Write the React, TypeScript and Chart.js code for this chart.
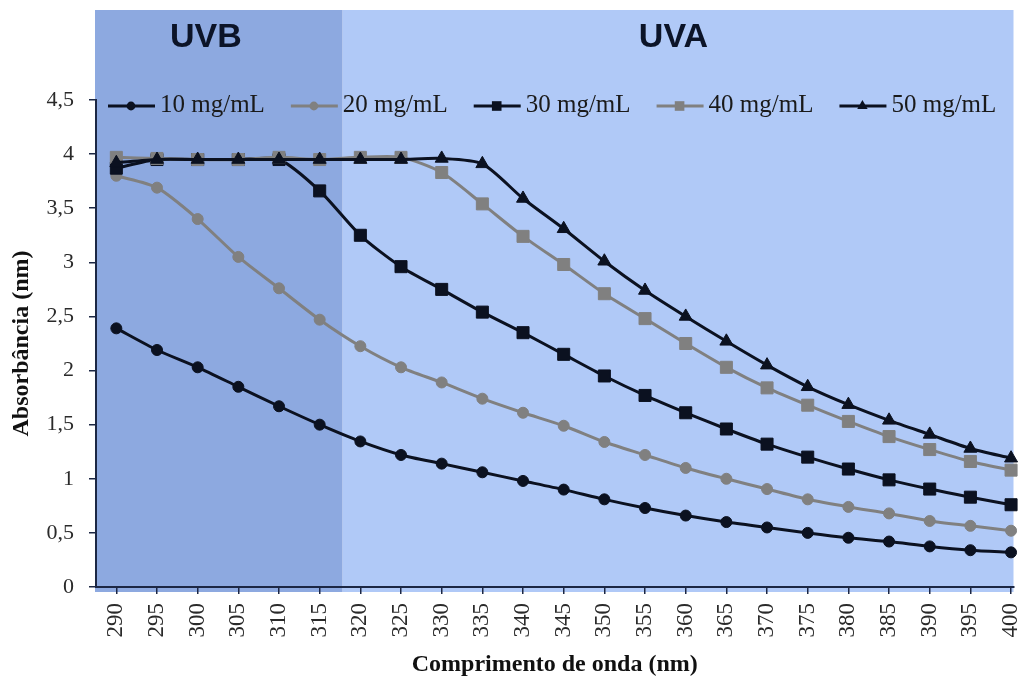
import React, { useEffect, useRef } from 'react';
import { Chart, registerables } from 'chart.js';

Chart.register(...registerables);

// Wavelengths (nm) on the x axis
const wavelengths = [290, 295, 300, 305, 310, 315, 320, 325, 330, 335, 340, 345, 350, 355, 360, 365, 370, 375, 380, 385, 390, 395, 400];

// Absorbance for each concentration
const abs10 = [2.39, 2.19, 2.03, 1.85, 1.67, 1.5, 1.345, 1.22, 1.14, 1.06, 0.98, 0.9, 0.81, 0.73, 0.66, 0.6, 0.55, 0.5, 0.455, 0.42, 0.375, 0.34, 0.32];
const abs20 = [3.8, 3.69, 3.4, 3.05, 2.76, 2.47, 2.225, 2.03, 1.89, 1.74, 1.61, 1.49, 1.34, 1.22, 1.1, 1.0, 0.905, 0.81, 0.74, 0.68, 0.61, 0.565, 0.52];
const abs30 = [3.87, 3.95, 3.95, 3.95, 3.95, 3.66, 3.25, 2.96, 2.75, 2.54, 2.35, 2.15, 1.95, 1.77, 1.61, 1.46, 1.32, 1.2, 1.09, 0.99, 0.905, 0.83, 0.76];
const abs40 = [3.97, 3.96, 3.95, 3.95, 3.97, 3.95, 3.97, 3.97, 3.83, 3.54, 3.24, 2.98, 2.71, 2.48, 2.25, 2.03, 1.84, 1.68, 1.53, 1.39, 1.27, 1.16, 1.08];
const abs50 = [3.92, 3.95, 3.95, 3.95, 3.95, 3.95, 3.95, 3.95, 3.96, 3.91, 3.59, 3.31, 3.01, 2.74, 2.5, 2.27, 2.05, 1.85, 1.685, 1.54, 1.41, 1.28, 1.19];

const seriesLabels = ['10 mg/mL', '20 mg/mL', '30 mg/mL', '40 mg/mL', '50 mg/mL'];
const seriesValues = [abs10, abs20, abs30, abs40, abs50];

// Y axis range and step
const yMin = 0;
const yMax = 4.5;
const yStep = 0.5;

// UV regions (nm): UVB ends where UVA begins
const uvbEnd = 317.8;
const bandNames = ['UVB', 'UVA'];
const bandLabelAt = [301, 358.5];

const DARK = '#0b1120';
const GRAY = '#808080';
const AXIS = '#1c2744';
const SERIF = "'Liberation Serif', 'Times New Roman', serif";

const styles = [
  { color: DARK, shape: 'circle', radius: 5.5 },
  { color: GRAY, shape: 'circle', radius: 5.5 },
  { color: DARK, shape: 'rect', radius: 8.5 },
  { color: GRAY, shape: 'rect', radius: 8.5 },
  { color: DARK, shape: 'triangle', radius: 7.5 },
];

function drawMarker(ctx: CanvasRenderingContext2D, shape: string, x: number, y: number, r: number, color: string) {
  ctx.save();
  ctx.fillStyle = color;
  ctx.beginPath();
  if (shape === 'circle') {
    ctx.arc(x, y, r, 0, Math.PI * 2);
  } else if (shape === 'rect') {
    const s = Math.SQRT1_2 * r;
    ctx.rect(x - s, y - s, 2 * s, 2 * s);
  } else {
    let a = 0;
    ctx.moveTo(x + Math.sin(a) * r, y - Math.cos(a) * r);
    a += (2 * Math.PI) / 3;
    ctx.lineTo(x + Math.sin(a) * r, y - Math.cos(a) * r);
    a += (2 * Math.PI) / 3;
    ctx.lineTo(x + Math.sin(a) * r, y - Math.cos(a) * r);
    ctx.closePath();
  }
  ctx.fill();
  ctx.restore();
}

// Shaded UVB / UVA panels behind the plot, with their titles
const uvPanels = {
  id: 'uvPanels',
  beforeDraw(chart: any) {
    const { ctx, chartArea, scales } = chart;
    const x = scales.x;
    const top = 10;
    const bottom = chartArea.bottom + 5;
    const split = x.getPixelForValue(uvbEnd);
    const left = chartArea.left - 1;
    const right = chartArea.right;
    ctx.save();
    ctx.fillStyle = '#b0c9f7';
    ctx.fillRect(split, top, right - split, bottom - top);
    ctx.fillStyle = '#8da9e0';
    ctx.fillRect(left, top, split - left, bottom - top);
    ctx.font = "bold 34px 'Liberation Sans', Arial, sans-serif";
    ctx.fillStyle = '#0c1428';
    ctx.textAlign = 'center';
    ctx.textBaseline = 'middle';
    bandNames.forEach((name, i) => {
      ctx.fillText(name, x.getPixelForValue(bandLabelAt[i]), top + 28);
    });
    ctx.restore();
  },
};

// Legend drawn inside the plot, along the top
const insideLegend = {
  id: 'insideLegend',
  afterDatasetsDraw(chart: any) {
    const { ctx, chartArea } = chart;
    const y = chartArea.top + 5;
    let x0 = chartArea.left + 12;
    ctx.save();
    ctx.font = `25px ${SERIF}`;
    ctx.textBaseline = 'middle';
    ctx.textAlign = 'left';
    chart.data.datasets.forEach((ds: any, i: number) => {
      const st = styles[i];
      ctx.strokeStyle = st.color;
      ctx.lineWidth = 3;
      ctx.beginPath();
      ctx.moveTo(x0, y + 1);
      ctx.lineTo(x0 + 47, y + 1);
      ctx.stroke();
      drawMarker(ctx, st.shape, x0 + 23, y + 1, st.radius * 0.8, st.color);
      ctx.fillStyle = '#1a1a1a';
      ctx.fillText(ds.label, x0 + 52, y);
      x0 += 52 + ctx.measureText(ds.label).width + 26;
    });
    ctx.restore();
  },
};

export default function App() {
  const canvasRef = useRef<HTMLCanvasElement>(null);

  useEffect(() => {
    document.body.style.margin = '0';
    const canvas = canvasRef.current;
    if (!canvas) return;

    const datasets = seriesValues.map((vals, i) => ({
      label: seriesLabels[i],
      data: wavelengths.map((w, k) => ({ x: w, y: vals[k] })),
      borderColor: styles[i].color,
      backgroundColor: styles[i].color,
      pointBackgroundColor: styles[i].color,
      pointBorderColor: styles[i].color,
      pointBorderWidth: 1,
      pointStyle: styles[i].shape,
      pointRadius: styles[i].radius,
      borderWidth: 3,
      tension: 0.25,
      order: seriesValues.length - i,
      clip: false as const,
    }));

    const tickFont = { family: SERIF, size: 22 };
    const titleFont = { family: SERIF, size: 24, weight: 'bold' as const, lineHeight: 1 };

    const chart = new Chart(canvas, {
      type: 'line',
      data: { datasets },
      options: {
        animation: false,
        responsive: false,
        layout: { padding: { top: 100, right: 8, left: 0, bottom: 0 } },
        plugins: {
          legend: { display: false },
          tooltip: { enabled: false },
        },
        scales: {
          x: {
            type: 'linear',
            min: wavelengths[0] - 2.5,
            max: wavelengths[wavelengths.length - 1] + 0.3,
            afterBuildTicks: (scale: any) => {
              scale.ticks = wavelengths.map((v) => ({ value: v }));
            },
            afterFit: (scale: any) => {
              scale.height = 90;
              scale.paddingLeft = 0;
              scale.paddingRight = 0;
            },
            ticks: {
              autoSkip: false,
              minRotation: 90,
              maxRotation: 90,
              padding: 9,
              font: { family: SERIF, size: 23 },
              color: '#2a2a2a',
              callback: (v: any) => String(v),
            },
            grid: { drawOnChartArea: false, tickLength: 7, color: AXIS, lineWidth: 1.5 },
            border: { color: AXIS, width: 2 },
            title: {
              display: true,
              text: 'Comprimento de onda (nm)',
              font: titleFont,
              color: '#111',
              padding: { top: 0, bottom: 0 },
            },
          },
          y: {
            type: 'linear',
            min: yMin,
            max: yMax,
            afterFit: (scale: any) => {
              scale.width = 96;
            },
            ticks: {
              stepSize: yStep,
              padding: 15,
              font: tickFont,
              color: '#2a2a2a',
              callback: (v: any) => String(v).replace('.', ','),
            },
            grid: { drawOnChartArea: false, tickLength: 7, color: AXIS, lineWidth: 1.5 },
            border: { color: AXIS, width: 2 },
            title: {
              display: true,
              text: 'Absorbância (nm)',
              font: titleFont,
              color: '#111',
              padding: { top: 10, bottom: 0 },
            },
          },
        },
      },
      plugins: [uvPanels, insideLegend],
    });

    return () => chart.destroy();
  }, []);

  return (
    <div style={{ width: 1023, height: 677, background: '#fff' }}>
      <canvas ref={canvasRef} width={1023} height={677} style={{ display: 'block' }} />
    </div>
  );
}
